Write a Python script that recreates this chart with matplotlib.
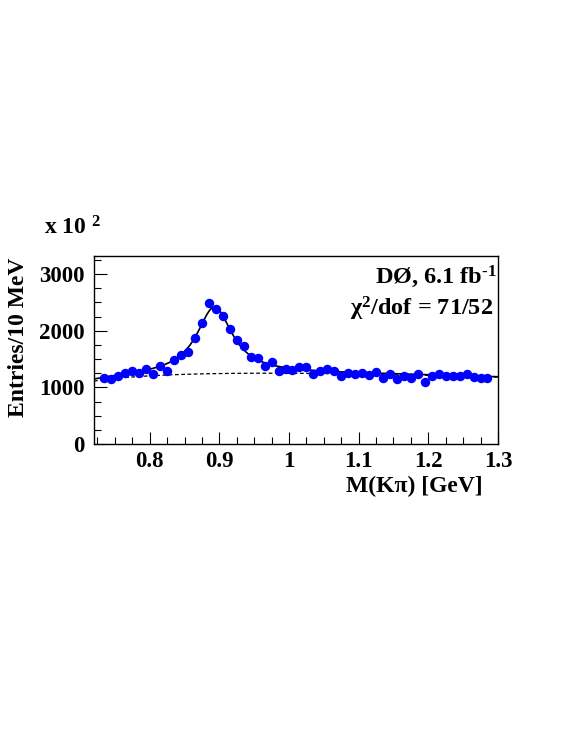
import numpy as np
import matplotlib
matplotlib.use("Agg")
import matplotlib.pyplot as plt
from matplotlib.ticker import MultipleLocator

plt.rcParams['font.family'] = ['Liberation Serif', 'DejaVu Serif']
plt.rcParams['font.weight'] = 'bold'
plt.rcParams['mathtext.fontset'] = 'custom'
plt.rcParams['mathtext.rm'] = 'Liberation Serif:bold'
plt.rcParams['mathtext.it'] = 'Liberation Serif:bold:italic'
plt.rcParams['mathtext.bf'] = 'Liberation Serif:bold'
plt.rcParams['mathtext.default'] = 'regular'

# bin centres (GeV) and entries per 10 MeV
masa = [0.735, 0.745, 0.755, 0.765, 0.775, 0.785, 0.795, 0.805, 0.815, 0.825,
        0.835, 0.845, 0.855, 0.865, 0.875, 0.885, 0.895, 0.905, 0.915, 0.925,
        0.935, 0.945, 0.955, 0.965, 0.975, 0.985, 0.995, 1.005, 1.015, 1.025,
        1.035, 1.045, 1.055, 1.065, 1.075, 1.085, 1.095, 1.105, 1.115, 1.125,
        1.135, 1.145, 1.155, 1.165, 1.175, 1.185, 1.195, 1.205, 1.215, 1.225,
        1.235, 1.245, 1.255, 1.265, 1.275, 1.285]
entradas = [1159, 1141, 1199, 1258, 1282, 1258, 1328, 1235, 1381, 1293,
            1481, 1570, 1617, 1864, 2128, 2481, 2381, 2257, 2028, 1834,
            1728, 1529, 1511, 1376, 1452, 1287, 1323, 1305, 1363, 1363,
            1229, 1293, 1317, 1293, 1205, 1247, 1229, 1258, 1217, 1275,
            1159, 1229, 1146, 1205, 1159, 1229, 1099, 1199, 1229, 1205,
            1199, 1205, 1235, 1176, 1169, 1169]

# fit parameters (K* Breit-Wigner + threshold background)
m_kstar = 0.893
ancho = 0.062
amp = 1176
umbral = 0.633
fondo_max = 1250
fondo_pot = 0.192
fondo_u0 = 0.337


def fondo(m):
    u = m - umbral
    k = fondo_pot / fondo_u0
    return fondo_max * (u / fondo_u0) ** fondo_pot * np.exp(-k * (u - fondo_u0))


def senal(m):
    g2 = (ancho / 2) ** 2
    return amp * g2 / ((m - m_kstar) ** 2 + g2)


fig = plt.figure(figsize=(5.81, 7.52), dpi=100)
ax = fig.add_axes([0.1618, 0.4096, 0.6952, 0.25])

mm = np.linspace(0.72, 1.3, 400)
ax.plot(mm, fondo(mm), color='black', lw=0.9, ls=(0, (3, 2)), zorder=2)
ax.plot(mm, fondo(mm) + senal(mm), color='black', lw=1.2, zorder=3)
ax.errorbar(masa, entradas, xerr=0.005, fmt='o', color='blue', ms=5.8,
            ecolor='black', elinewidth=0.8, capsize=0, zorder=4)

ax.set_xlim(0.72, 1.3)
ax.set_ylim(0, 3320)
ax.xaxis.set_major_locator(MultipleLocator(0.1))
ax.xaxis.set_minor_locator(MultipleLocator(0.025))
ax.yaxis.set_major_locator(MultipleLocator(1000))
ax.yaxis.set_minor_locator(MultipleLocator(250))
ax.set_xticks([0.8, 0.9, 1.0, 1.1, 1.2, 1.3])
ax.set_xticklabels(['0.8', '0.9', '1', '1.1', '1.2', '1.3'])
ax.tick_params(which='both', direction='in', top=False, right=False,
               labelsize=16.5, width=0.8)
ax.tick_params(which='major', length=9)
ax.tick_params(which='minor', length=5)
ax.tick_params(axis='y', pad=6.5)
ax.tick_params(axis='x', pad=5)
for s in ax.spines.values():
    s.set_linewidth(1.0)

fig.text(0.031, 0.552, 'Entries/10 MeV', rotation=90, ha='center',
         va='center', fontsize=17, fontweight='bold')
fig.text(0.830, 0.353, 'M(Kπ) [GeV]', ha='right', va='center',
         fontsize=17, fontweight='bold')
fig.text(0.076, 0.697, 'x 10 $^{2}$', ha='left', va='center',
         fontsize=17, fontweight='bold')
fig.text(0.855, 0.6237, r'DØ, 6.1 fb$^{\text{-}1}$', ha='right', va='baseline',
         fontsize=17.5, fontweight='bold')
fig.text(0.848, 0.581, 'χ$^{2}$/dof = 71/52', ha='right', va='baseline',
         fontsize=17.5, fontweight='bold')

fig.savefig('out.png', dpi=100)
